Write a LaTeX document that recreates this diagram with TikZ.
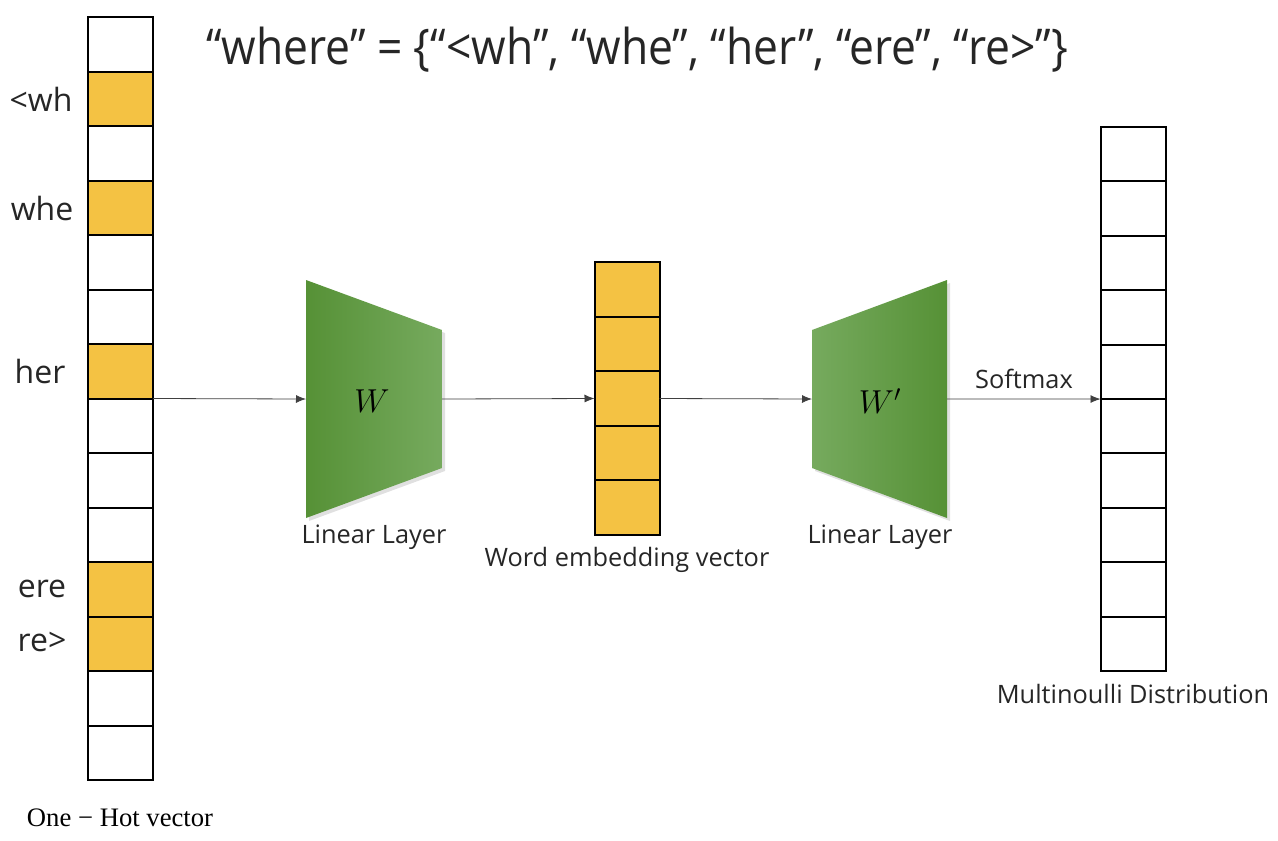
\documentclass[tikz,border=0pt]{standalone}
\usepackage{graphicx}
\usepackage{fontspec}
\setsansfont{Open Sans}
\newfontfamily\capfont{Liberation Serif}
\usetikzlibrary{arrows.meta}
\definecolor{cellyellow}{RGB}{244,194,67}
\definecolor{gdark}{RGB}{86,145,54}
\definecolor{glight}{RGB}{118,170,94}
\begin{document}
\begin{tikzpicture}[x=0.75pt,y=-0.75pt,font=\sffamily,
  cell/.style={draw=black,line width=1.5pt,minimum width=48.75pt,minimum height=40.875pt,inner sep=0pt,outer sep=0pt},
  conn/.style={draw=black!75,line width=0.6pt,-{Latex[length=7.5pt,width=6pt]}},
  lbl/.style={font=\sffamily\fontsize{19}{22}\selectfont,text=black!85,inner sep=0pt},
  sidelbl/.style={font=\sffamily\fontsize{24}{26}\selectfont,text=black!85,inner sep=0pt},
  wlbl/.style={font=\fontsize{24}{26}\selectfont,inner sep=0pt}]
\useasboundingbox[fill=white] (0,0) rectangle (1278,840);

% title
\node[inner sep=0pt,text=black!85] (title) at (637,50) {\fontsize{37}{40}\selectfont\scalebox{0.9}[1]{“where” = \{“<wh”, “whe”, “her”, “ere”, “re>”\}}};

% left one-hot column
\foreach \i/\c in {1/white,2/cellyellow,3/white,4/cellyellow,5/white,6/white,7/cellyellow,8/white,9/white,10/white,11/cellyellow,12/cellyellow,13/white,14/white}
  \node[cell,fill=\c] (L\i) at (120.5,{17+54.5*(\i-0.5)}) {};

% middle embedding column
\foreach \i in {1,...,5}
  \node[cell,fill=cellyellow] (M\i) at (627,{262+54.6*(\i-0.5)}) {};

% right output column
\foreach \i in {1,...,10}
  \node[cell,fill=white] (R\i) at (1133,{127+54.4*(\i-0.5)}) {};

% trapezoids
\fill[black,opacity=0.12] (309,283) -- (445,333) -- (445,471) -- (309,521) -- cycle;
\shade[left color=gdark,right color=glight] (306,280) -- (442,330) -- (442,468) -- (306,518) -- cycle;
\fill[black,opacity=0.12] (815,333) -- (950,283) -- (950,521) -- (815,471) -- cycle;
\shade[left color=glight,right color=gdark] (812,330) -- (947,280) -- (947,518) -- (812,468) -- cycle;
\coordinate (T1in) at (306,399);
\coordinate (T1out) at (442,399);
\coordinate (T2in) at (812,399);
\coordinate (T2out) at (947,399);
\node[wlbl] (W1) at (372,401) {$W$};
\node[wlbl] (W2) at (880,401) {$W'$};

% connectors
\draw[conn] (L7.south east) -- (T1in);
\draw[conn] (T1out) -- (M3.west);
\draw[conn] (M3.east) -- (T2in);
\draw[conn] (T2out) -- (R5.south west);

% labels
\node[sidelbl] (lwh) at (41,99) {<wh};
\node[sidelbl] (lwhe) at (42,208) {whe};
\node[sidelbl] (lher) at (40,371) {her};
\node[sidelbl] (lere) at (42,589) {ere};
\node[sidelbl] (lre) at (42,642) {re>};
\node[lbl] (ll1) at (374,537) {Linear Layer};
\node[lbl] (lwev) at (627,560) {Word embedding vector};
\node[lbl] (ll2) at (880,537) {Linear Layer};
\node[lbl] (lsm) at (1024,379) {Softmax};
\node[lbl] (lmd) at (1133,694) {Multinoulli Distribution};
\node[inner sep=0pt,font=\capfont\fontsize{20}{22}\selectfont] (loh) at (120,818) {One − Hot vector};
\end{tikzpicture}
\end{document}
